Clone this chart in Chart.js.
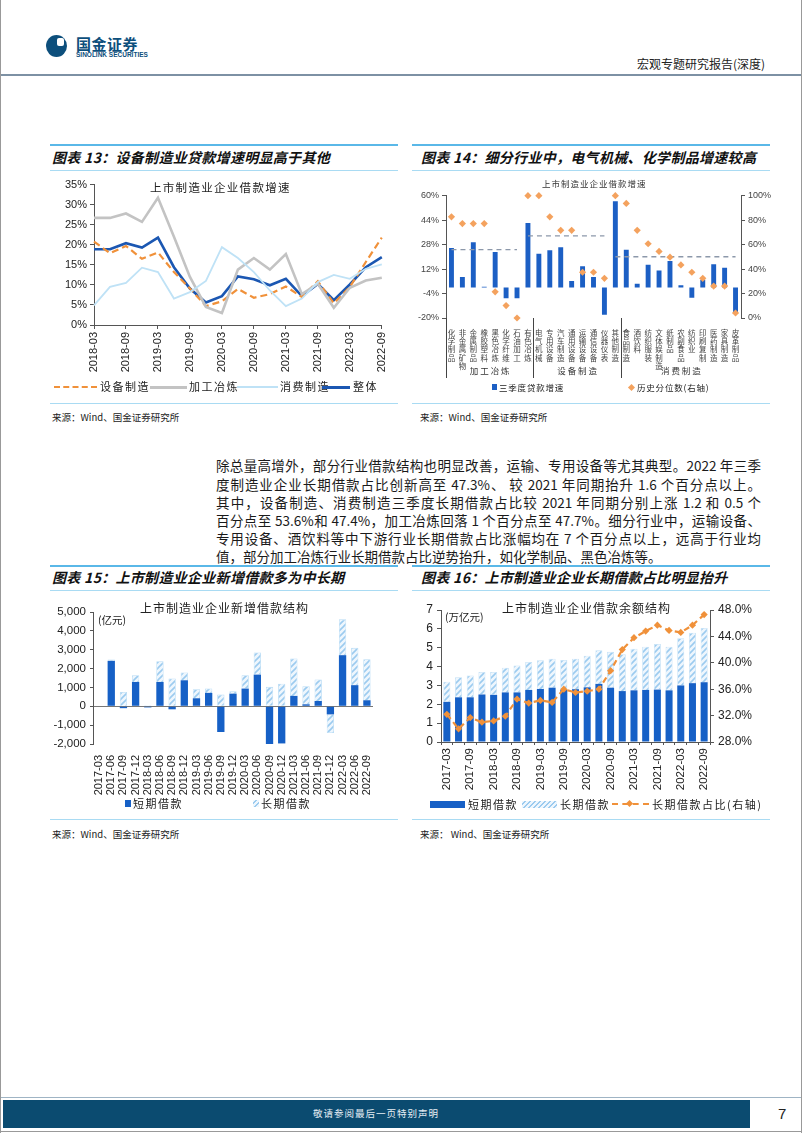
<!DOCTYPE html>
<html lang="zh">
<head>
<meta charset="UTF-8">
<title>宏观专题研究报告(深度)</title>
<style>
  body { margin: 0; background: #fff; }
  #page { position: relative; width: 802px; height: 1133px; overflow: hidden; font-family: "Noto Sans CJK SC", sans-serif; color: #111; }
  .t { position: absolute; white-space: nowrap; line-height: 1; }
  .ln { position: absolute; }
  .title { position: absolute; white-space: nowrap; line-height: 1; font-size: 14px; font-weight: bold; font-style: italic; letter-spacing: 0.3px; }
  .src { position: absolute; white-space: nowrap; line-height: 1; font-size: 9.5px; color: #222; }
  canvas { position: absolute; }
  .para div { position: absolute; left: 216px; width: 545px; font-size: 13.5px; line-height: 1; text-align: justify; text-align-last: justify; white-space: nowrap; color: #1a1a1a; }
  .sw { position: absolute; }
  .lg { position: absolute; white-space: nowrap; line-height: 1; font-size: 11px; letter-spacing: 1.5px; color: #222; }
  .hatch { background: repeating-linear-gradient(135deg, #eef6fd 0 2px, #9ccbef 2px 3.5px); }
</style>
</head>
<body>
<div id="page">
  <!-- header -->
  <div class="ln" style="left:46px;top:35px;width:21px;height:22px;border-radius:50%;background:#0d4f7c;"></div>
  <div class="ln" style="left:57px;top:38px;width:7px;height:8px;border-radius:2px;background:#fff;"></div>
  <div class="t" style="left:76px;top:36px;font-size:15px;font-weight:bold;color:#0d4f7c;letter-spacing:0.5px;">国金证券</div>
  <div class="t" style="left:76px;top:52px;font-size:6.5px;font-weight:bold;color:#0d4f7c;font-family:'Liberation Sans';">SINOLINK SECURITIES</div>
  <div class="t" style="left:637px;top:58px;font-size:12px;color:#222;">宏观专题研究报告(深度)</div>
  <div class="ln" style="left:0;top:74px;width:802px;height:2px;background:#7d91a4;"></div>

  <!-- chart 13 / 14 frames -->
  <div class="ln" style="left:50px;top:144px;width:348px;height:2px;background:#5ab8e8;"></div>
  <div class="ln" style="left:412px;top:144px;width:358px;height:2px;background:#5ab8e8;"></div>
  <div class="title" style="left:52px;top:150px;">图表 13：设备制造业贷款增速明显高于其他</div>
  <div class="title" style="left:421px;top:150px;">图表 14：细分行业中，电气机械、化学制品增速较高</div>
  <div class="ln" style="left:50px;top:170px;width:348px;height:1px;background:#a9dbf3;"></div>
  <div class="ln" style="left:412px;top:170px;width:358px;height:1px;background:#a9dbf3;"></div>

  <canvas id="c13" width="348" height="212" style="left:50px;top:175px;"></canvas>
  <div class="t" style="left:150px;top:182px;font-size:11.5px;letter-spacing:1.3px;color:#222;">上市制造业企业借款增速</div>
  <canvas id="c14" width="364" height="208" style="left:408px;top:175px;"></canvas>
  <div class="t" style="left:542px;top:179px;font-size:8.5px;letter-spacing:1px;color:#333;">上市制造业企业借款增速</div>

  <!-- legend 13 -->
  <div class="sw" style="left:54px;top:386px;width:43px;height:0;border-top:2.5px dashed #f0913a;"></div>
  <div class="lg" style="left:100px;top:381px;">设备制造</div>
  <div class="sw" style="left:150px;top:386px;width:37px;height:3px;background:#c3c3c3;"></div>
  <div class="lg" style="left:189px;top:381px;">加工冶炼</div>
  <div class="sw" style="left:237px;top:386px;width:41px;height:2px;background:#bfe2f6;"></div>
  <div class="lg" style="left:280px;top:381px;">消费制造</div>
  <div class="sw" style="left:322px;top:386px;width:28px;height:3px;background:#1b57b2;"></div>
  <div class="lg" style="left:353px;top:381px;">整体</div>

  <!-- legend 14 -->
  <div class="sw" style="left:492px;top:384px;width:5px;height:6px;background:#1c5fc4;"></div>
  <div class="lg" style="left:499px;top:383px;font-size:8.5px;letter-spacing:0.8px;">三季度贷款增速</div>
  <div class="sw" style="left:629px;top:384.5px;width:5px;height:5px;background:#f4a25e;transform:rotate(45deg);"></div>
  <div class="lg" style="left:637px;top:383px;font-size:8.5px;letter-spacing:0.8px;">历史分位数(右轴)</div>

  <div class="ln" style="left:50px;top:403px;width:348px;height:1px;background:#a9dbf3;"></div>
  <div class="ln" style="left:412px;top:403px;width:358px;height:1px;background:#a9dbf3;"></div>
  <div class="src" style="left:52px;top:413px;">来源：Wind、国金证券研究所</div>
  <div class="src" style="left:420px;top:413px;">来源：Wind、国金证券研究所</div>

  <!-- paragraph -->
  <div class="para">
    <div style="top:459px;">除总量高增外，部分行业借款结构也明显改善，运输、专用设备等尤其典型。2022 年三季</div>
    <div style="top:478px;">度制造业企业长期借款占比创新高至 47.3%、 较 2021 年同期抬升 1.6 个百分点以上。</div>
    <div style="top:496px;">其中，设备制造、消费制造三季度长期借款占比较 2021 年同期分别上涨 1.2 和 0.5 个</div>
    <div style="top:514px;">百分点至 53.6%和 47.4%，加工冶炼回落 1 个百分点至 47.7%。细分行业中，运输设备、</div>
    <div style="top:532px;">专用设备、酒饮料等中下游行业长期借款占比涨幅均在 7 个百分点以上，远高于行业均</div>
    <div style="top:550px;text-align:left;text-align-last:left;">值，部分加工冶炼行业长期借款占比逆势抬升，如化学制品、黑色冶炼等。</div>
  </div>

  <!-- chart 15 / 16 frames -->
  <div class="ln" style="left:50px;top:565px;width:348px;height:2px;background:#5ab8e8;"></div>
  <div class="ln" style="left:412px;top:565px;width:358px;height:2px;background:#5ab8e8;"></div>
  <div class="title" style="left:52px;top:570px;">图表 15：上市制造业企业新增借款多为中长期</div>
  <div class="title" style="left:421px;top:570px;">图表 16：上市制造业企业长期借款占比明显抬升</div>
  <div class="ln" style="left:50px;top:590px;width:348px;height:1px;background:#a9dbf3;"></div>
  <div class="ln" style="left:412px;top:590px;width:358px;height:1px;background:#a9dbf3;"></div>

  <canvas id="c15" width="348" height="204" style="left:50px;top:596px;"></canvas>
  <div class="t" style="left:140px;top:602px;font-size:12px;letter-spacing:1px;color:#222;">上市制造业企业新增借款结构</div>
  <div class="t" style="left:98px;top:615px;font-size:10.5px;color:#222;">(亿元)</div>
  <canvas id="c16" width="365" height="202" style="left:405px;top:596px;"></canvas>
  <div class="t" style="left:502px;top:602px;font-size:12px;letter-spacing:1px;color:#222;">上市制造业企业借款余额结构</div>
  <div class="t" style="left:445px;top:612px;font-size:10.5px;color:#222;">(万亿元)</div>

  <!-- legend 15 -->
  <div class="sw" style="left:125px;top:800px;width:6px;height:7px;background:#1660c6;"></div>
  <div class="lg" style="left:133px;top:798px;">短期借款</div>
  <div class="sw hatch" style="left:253px;top:800px;width:6px;height:7px;"></div>
  <div class="lg" style="left:261px;top:798px;">长期借款</div>

  <!-- legend 16 -->
  <div class="sw" style="left:430px;top:801px;width:35px;height:7px;background:#1660c6;"></div>
  <div class="lg" style="left:468px;top:799px;">短期借款</div>
  <div class="sw hatch" style="left:522px;top:801px;width:35px;height:7px;"></div>
  <div class="lg" style="left:560px;top:799px;">长期借款</div>
  <div class="sw" style="left:612px;top:803px;width:37px;height:0;border-top:2px dashed #f0913a;"></div>
  <div class="sw" style="left:627px;top:801px;width:5px;height:5px;background:#f0913a;transform:rotate(45deg);"></div>
  <div class="lg" style="left:652px;top:799px;">长期借款占比(右轴)</div>

  <div class="ln" style="left:50px;top:819px;width:348px;height:1px;background:#a9dbf3;"></div>
  <div class="ln" style="left:412px;top:819px;width:358px;height:1px;background:#a9dbf3;"></div>
  <div class="src" style="left:52px;top:830px;">来源：Wind、国金证券研究所</div>
  <div class="src" style="left:420px;top:830px;">来源： Wind、国金证券研究所</div>

  <!-- footer -->
  <div class="ln" style="left:0;top:1097px;width:802px;height:1px;background:#9fb4c4;"></div>
  <div class="ln" style="left:3px;top:1100px;width:747px;height:28px;background:#0b4b70;"></div>
  <div class="t" style="left:300px;top:1109px;width:152px;text-align:center;font-size:9.5px;color:#e6eef4;letter-spacing:1px;">敬请参阅最后一页特别声明</div>
  <div class="t" style="left:778px;top:1106px;font-size:15px;font-family:'Liberation Sans';color:#222;">7</div>
  <div class="ln" style="left:0;top:0;width:1px;height:1133px;background:#999;"></div>
  <div class="ln" style="left:801px;top:0;width:1px;height:1133px;background:#999;"></div>
  <div class="ln" style="left:0;top:1131px;width:802px;height:1px;background:#999;"></div>
</div>

<script src="https://cdn.jsdelivr.net/npm/chart.js"></script>
<script>
  // ---- chart 13: growth by sector ----
  const quarters13 = ['2018-03','2018-06','2018-09','2018-12','2019-03','2019-06','2019-09','2019-12','2020-03','2020-06',
                      '2020-09','2020-12','2021-03','2021-06','2021-09','2021-12','2022-03','2022-06','2022-09'];
  const equipGrowth    = [20.8,17.9,19.7,16.5,18.1,13.2,9.1,4.7,5.9,9.0,6.8,7.7,9.6,7.0,10.9,5.4,9.5,15.7,21.8];
  const processGrowth  = [26.7,26.7,27.8,25.7,31.7,22.0,12.0,4.5,3.0,13.8,16.7,13.8,17.7,7.7,10.3,4.3,9.3,11.1,11.8];
  const consumerGrowth = [4.9,9.5,10.5,14.3,13.2,6.6,8.2,11.0,19.4,16.7,13.2,8.6,4.7,6.6,10.7,12.5,11.5,14.0,15.1];
  const totalGrowth    = [18.9,18.9,20.4,19.3,21.8,14.4,9.1,5.6,7.2,12.1,11.4,9.9,11.5,7.2,10.2,6.2,10.1,14.4,16.9];

  // ---- chart 14: sub-industries ----
  const industries = ['化学制品','非金属矿物','金属制品','橡胶塑料','黑色冶炼','化学纤维','石油加工','有色冶炼',
                      '电气机械','专用设备','汽车制造','通用设备','运输设备','通信设备','仪器仪表','其他制造',
                      '食品制造','酒饮料','纺织服装','文体娱制造','纸制品','农副食品','纺织业','印刷复制','医药制造','家具制造','皮革制品'];
  const q3Growth   = [25.8,6.8,29.5,0.4,23.2,-7.0,-7.0,42.2,22.1,24.3,26.2,4.2,13.8,6.8,-17.9,56.4,
                      24.7,2.4,14.9,11.1,17.3,1.5,-6.8,5.0,15.1,12.9,-16.6];
  const percentile = [82.7,77.2,77.2,77.2,21.4,10.2,0,100,100,82.7,71.7,71.7,37.4,37.4,32.4,100,
                      93.7,71.7,60.7,54.4,49.7,43.4,37.4,32.4,26.1,26.1,4.1];
  const groupNames = ['加工冶炼','设备制造','消费制造'];
  const groupSizes = [8, 8, 11];
  const groupAvg   = [24.7, 33.7, 20.1];
  const avgFrom    = [0, 7, 15];
  const avgTo      = [6, 14, 26];

  // ---- chart 15 / 16: loans ----
  const quarters = ['2017-03','2017-06','2017-09','2017-12','2018-03','2018-06','2018-09','2018-12','2019-03','2019-06','2019-09','2019-12',
                    '2020-03','2020-06','2020-09','2020-12','2021-03','2021-06','2021-09','2021-12','2022-03','2022-06','2022-09'];
  const shortNew = [0,2410,-100,1290,-60,1290,-160,1380,425,710,-1365,670,940,1680,-2020,-1970,550,105,280,-430,2710,1120,320];
  const longNew  = [0,70,760,360,50,1100,1470,410,475,230,620,130,710,1170,1030,1200,1990,960,1140,-990,1900,1980,2180];
  const shortBal = [2.13,2.37,2.37,2.52,2.50,2.63,2.63,2.76,2.81,2.88,2.78,2.80,2.90,3.08,2.88,2.70,2.74,2.76,2.78,2.74,3.00,3.12,3.17];
  const longBal  = [1.07,1.07,1.16,1.19,1.21,1.31,1.43,1.48,1.52,1.54,1.57,1.62,1.68,1.79,1.90,1.95,2.21,2.29,2.42,2.31,2.50,2.68,2.88];
  const longRatio = [32.2,30.0,31.7,31.0,31.2,31.9,34.5,33.9,34.3,34.0,36.0,35.5,35.7,36.0,38.8,42.0,43.8,44.8,45.7,44.9,44.6,45.7,47.3];

  const NUM = 'Liberation Sans';
  const CJK = 'Noto Sans CJK SC';
  const AXIS = '#555';
  const NONE = 'rgba(0,0,0,0)';
  const DARK = '#1660c6';

  function hatch(canvasId) {
    const c = document.createElement('canvas');
    c.width = 6; c.height = 6;
    const g = c.getContext('2d');
    g.fillStyle = '#eef6fd';
    g.fillRect(0, 0, 6, 6);
    g.strokeStyle = '#9ccbef';
    g.lineWidth = 1.6;
    g.beginPath();
    g.moveTo(0, 6); g.lineTo(6, 0);
    g.moveTo(-1, 1); g.lineTo(1, -1);
    g.moveTo(5, 7); g.lineTo(7, 5);
    g.stroke();
    return document.getElementById(canvasId).getContext('2d').createPattern(c, 'repeat');
  }

  const base = {
    responsive: false,
    animation: false,
    plugins: { legend: { display: false }, tooltip: { enabled: false } }
  };

  // chart 13
  new Chart(document.getElementById('c13'), {
    type: 'line',
    data: {
      labels: quarters13,
      datasets: [
        { label: '消费制造', data: consumerGrowth, borderColor: '#bfe2f6', borderWidth: 1.8, pointRadius: 0 },
        { label: '加工冶炼', data: processGrowth, borderColor: '#c3c3c3', borderWidth: 2.6, pointRadius: 0 },
        { label: '设备制造', data: equipGrowth, borderColor: '#f0913a', borderDash: [7, 4], borderWidth: 2.2, pointRadius: 0 },
        { label: '整体', data: totalGrowth, borderColor: '#1b57b2', borderWidth: 2.6, pointRadius: 0 }
      ]
    },
    options: {
      ...base,
      layout: { padding: { top: 8, right: 16, left: 0, bottom: 0 } },
      scales: {
        x: {
          offset: false,
          grid: { drawOnChartArea: false, tickLength: 4, color: c => (c.index % 2 === 0 ? AXIS : NONE) },
          border: { color: AXIS },
          ticks: { autoSkip: false, maxRotation: 90, minRotation: 90, color: '#222', font: { size: 11, family: NUM },
                   callback: (v, i) => (i % 2 === 0 ? quarters13[i] : '') },
          afterFit: s => { s.height = 62; }
        },
        y: {
          min: 0, max: 35,
          ticks: { stepSize: 5, callback: v => v + '%', color: '#222', font: { size: 11, family: NUM }, padding: 3 },
          grid: { drawOnChartArea: false, tickLength: 4, color: AXIS },
          border: { color: AXIS },
          afterFit: s => { s.width = 44; }
        }
      }
    }
  });

  // chart 14
  const groupPlugin = {
    id: 'groups',
    afterDraw(chart) {
      const { ctx, chartArea, scales: { x } } = chart;
      const b = chartArea.bottom;
      const edges = [chartArea.left];
      let n = 0;
      groupSizes.forEach((s, i) => {
        n += s;
        if (i < groupSizes.length - 1) edges.push((x.getPixelForValue(n - 1) + x.getPixelForValue(n)) / 2);
      });
      edges.push(chartArea.right);
      ctx.save();
      ctx.strokeStyle = '#444';
      ctx.lineWidth = 1;
      edges.slice(0, 3).forEach(px => {
        ctx.beginPath();
        ctx.moveTo(Math.round(px) + 0.5, b);
        ctx.lineTo(Math.round(px) + 0.5, b + 60);
        ctx.stroke();
      });
      ctx.fillStyle = '#333';
      ctx.font = '8.5px "' + CJK + '"';
      ctx.textAlign = 'center';
      ctx.textBaseline = 'middle';
      groupNames.forEach((g, i) => {
        ctx.fillText(g.split('').join(' '), (edges[i] + edges[i + 1]) / 2, b + 53);
      });
      ctx.restore();
    }
  };

  const avgSets = groupAvg.map((v, g) => ({
    type: 'line',
    data: industries.map((_, i) => (i >= avgFrom[g] && i <= avgTo[g] ? v : null)),
    borderColor: '#8c98aa', borderDash: [5, 4], borderWidth: 1.4, pointRadius: 0, spanGaps: false,
    yAxisID: 'y', order: 2
  }));

  new Chart(document.getElementById('c14'), {
    type: 'bar',
    data: {
      labels: industries.map(s => s.split('')),
      datasets: [
        { label: '三季度贷款增速', data: q3Growth, backgroundColor: '#1c5fc4', barPercentage: 0.9, categoryPercentage: 0.5, yAxisID: 'y', order: 3 },
        ...avgSets,
        { type: 'line', label: '历史分位数(右轴)', data: percentile, showLine: false, pointStyle: 'rectRot', pointRadius: 3.6,
          pointBackgroundColor: '#f4a25e', pointBorderWidth: 0, yAxisID: 'y1', order: 1, clip: false }
      ]
    },
    options: {
      ...base,
      layout: { padding: { top: 20.7, right: 0, left: 0, bottom: 0 } },
      scales: {
        x: {
          grid: { display: false },
          border: { display: false },
          ticks: { autoSkip: false, maxRotation: 0, minRotation: 0, padding: 3, color: '#444', font: { size: 7.5, family: CJK, lineHeight: 1.1 } },
          afterFit: s => { s.height = 65; }
        },
        y: {
          min: -20, max: 60,
          ticks: { stepSize: 16, callback: v => v + '%', color: '#444', font: { size: 9, family: NUM }, padding: 3 },
          grid: { tickLength: 4, tickColor: AXIS, color: c => (c.tick && c.tick.value === 0 ? '#333' : NONE) },
          border: { color: AXIS },
          afterFit: s => { s.width = 38; }
        },
        y1: {
          position: 'right', min: 0, max: 100,
          ticks: { stepSize: 20, callback: v => v + '%', color: '#444', font: { size: 9, family: NUM }, padding: 3 },
          grid: { drawOnChartArea: false, tickLength: 4, color: AXIS },
          border: { color: AXIS },
          afterFit: s => { s.width = 31; }
        }
      }
    },
    plugins: [groupPlugin]
  });

  // chart 15
  new Chart(document.getElementById('c15'), {
    type: 'bar',
    data: {
      labels: quarters,
      datasets: [
        { label: '短期借款', data: shortNew, backgroundColor: DARK, barPercentage: 1, categoryPercentage: 0.6 },
        { label: '长期借款', data: longNew, backgroundColor: hatch('c15'), borderColor: '#b8dcf5', borderWidth: 0.8,
          barPercentage: 1, categoryPercentage: 0.6 }
      ]
    },
    options: {
      ...base,
      layout: { padding: { top: 16, right: 25, left: 0, bottom: 0 } },
      scales: {
        x: {
          stacked: true,
          grid: { display: false },
          border: { display: false },
          ticks: { autoSkip: false, maxRotation: 90, minRotation: 90, color: '#222', font: { size: 11, family: NUM } },
          afterFit: s => { s.height = 56; }
        },
        y: {
          stacked: true, min: -2000, max: 5000,
          ticks: { stepSize: 1000, callback: v => v.toLocaleString('en-US'), color: '#222', font: { size: 11.5, family: NUM }, padding: 4 },
          grid: { tickLength: 3, tickColor: AXIS, color: c => (c.tick && c.tick.value === 0 ? '#777' : NONE) },
          border: { color: AXIS },
          afterFit: s => { s.width = 43; }
        }
      }
    }
  });

  // chart 16
  new Chart(document.getElementById('c16'), {
    type: 'bar',
    data: {
      labels: quarters,
      datasets: [
        { label: '短期借款', data: shortBal, backgroundColor: DARK, barPercentage: 1, categoryPercentage: 0.6, yAxisID: 'y', order: 2 },
        { label: '长期借款', data: longBal, backgroundColor: hatch('c16'), borderColor: '#c4e1f6', borderWidth: 0.8,
          barPercentage: 1, categoryPercentage: 0.6, yAxisID: 'y', order: 2 },
        { type: 'line', label: '长期借款占比(右轴)', data: longRatio, borderColor: '#f0913a', borderDash: [6, 4], borderWidth: 2.2,
          pointStyle: 'rectRot', pointRadius: 3.6, pointBackgroundColor: '#f0913a', pointBorderWidth: 0, yAxisID: 'y1', order: 1, clip: false }
      ]
    },
    options: {
      ...base,
      layout: { padding: { top: 14, right: 0, left: 0, bottom: 0 } },
      scales: {
        x: {
          stacked: true,
          grid: { drawOnChartArea: false, tickLength: 3, color: AXIS },
          border: { color: AXIS },
          ticks: { autoSkip: false, maxRotation: 90, minRotation: 90, color: '#222', font: { size: 11.5, family: NUM },
                   callback: (v, i) => (i % 2 === 0 ? quarters[i] : '') },
          afterFit: s => { s.height = 56; }
        },
        y: {
          stacked: true, min: 0, max: 7,
          ticks: { stepSize: 1, color: '#222', font: { size: 12, family: NUM }, padding: 4 },
          grid: { drawOnChartArea: false, tickLength: 4, color: AXIS },
          border: { color: AXIS },
          afterFit: s => { s.width = 36; }
        },
        y1: {
          position: 'right', min: 28, max: 48,
          ticks: { stepSize: 4, callback: v => v.toFixed(1) + '%', color: '#222', font: { size: 12, family: NUM }, padding: 4 },
          grid: { drawOnChartArea: false, tickLength: 4, color: AXIS },
          border: { color: AXIS },
          afterFit: s => { s.width = 60; }
        }
      }
    }
  });
</script>
</body>
</html>
